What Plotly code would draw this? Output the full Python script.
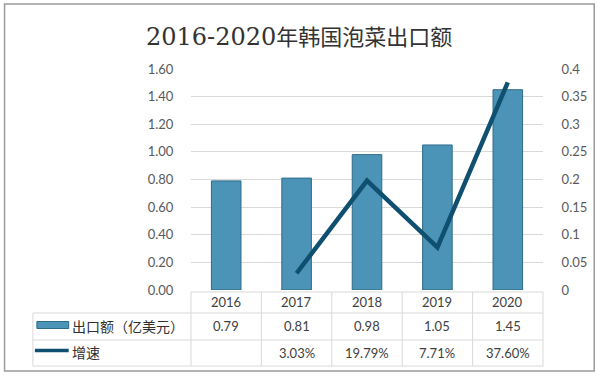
import plotly.graph_objects as go

years = ["2016", "2017", "2018", "2019", "2020"]
export_value = [0.79, 0.81, 0.98, 1.05, 1.45]
growth = [None, 0.0303, 0.1979, 0.0771, 0.3760]
growth_labels = ["", "3.03%", "19.79%", "7.71%", "37.60%"]
bar_name = "出口额（亿美元）"
line_name = "增速"
title_years = "2016-2020"
title_rest = "年韩国泡菜出口额"

W, H = 599, 376
PL, PR, PT, PB = 191, 545, 69, 290

def xp(px):
    return (px - PL) / (PR - PL)

def yp(py):
    return (PB - py) / (PB - PT)

FONT = "Lato, 'Noto Sans CJK SC', sans-serif"
TXT = "#404040"
GRID = "#d9d9d9"

fig = go.Figure()
fig.add_trace(go.Bar(
    x=years, y=export_value, name=bar_name,
    marker=dict(color="#4b93b7", line=dict(color="#2e6b8a", width=1)),
    width=0.42, yaxis="y",
))
fig.add_trace(go.Scatter(
    x=years, y=growth, name=line_name, mode="lines",
    line=dict(color="#0f4f70", width=4.5), yaxis="y2",
))

shapes = []
shapes.append(dict(type="rect", xref="paper", yref="paper",
                   x0=xp(3.5), x1=xp(596.5), y0=yp(4), y1=yp(371),
                   line=dict(color="#9a9a9a", width=1.5), fillcolor="rgba(0,0,0,0)", layer="below"))
shapes.append(dict(type="line", xref="paper", yref="paper", x0=xp(191), x1=xp(545),
                   y0=yp(292), y1=yp(292), line=dict(color=GRID, width=1)))
for py in [313, 340, 366]:
    shapes.append(dict(type="line", xref="paper", yref="paper", x0=xp(32), x1=xp(545),
                       y0=yp(py), y1=yp(py), line=dict(color=GRID, width=1)))
shapes.append(dict(type="line", xref="paper", yref="paper", x0=xp(32), x1=xp(32),
                   y0=yp(313), y1=yp(366), line=dict(color=GRID, width=1)))
for i in range(len(years) + 1):
    px = PL + i * (PR - PL) / len(years)
    shapes.append(dict(type="line", xref="paper", yref="paper", x0=xp(px), x1=xp(px),
                       y0=yp(292), y1=yp(366), line=dict(color=GRID, width=1)))
shapes.append(dict(type="rect", xref="paper", yref="paper", x0=xp(36), x1=xp(68),
                   y0=yp(328.5), y1=yp(321.5), fillcolor="#4b93b7",
                   line=dict(color="#2e6b8a", width=1)))
shapes.append(dict(type="line", xref="paper", yref="paper", x0=xp(34), x1=xp(68),
                   y0=yp(350.5), y1=yp(350.5), line=dict(color="#0f4f70", width=3.5)))

def note(x, y, text, size=13, xref="paper", xanchor="center", family=FONT, color=TXT):
    return dict(x=x, xref=xref, y=y, yref="paper", text=text, showarrow=False,
                xanchor=xanchor, yanchor="middle", font=dict(family=family, size=size, color=color))

ann = []
for i, yr in enumerate(years):
    ann.append(note(i, yp(302), yr, xref="x"))
    ann.append(note(i, yp(326), f"{export_value[i]:.2f}", xref="x"))
    ann.append(note(i, yp(353), growth_labels[i], xref="x"))
CJK = "'Noto Sans CJK SC', sans-serif"
ann.append(note(xp(69), yp(326), bar_name, size=14, xanchor="left", family=CJK, color="#303030"))
ann.append(note(xp(69), yp(352), line_name, size=14, xanchor="left", family=CJK, color="#303030"))
title_html = (f"<span style='font-family:DejaVu Serif;font-size:24px'>{title_years}</span>"
              f"<span style='font-family:Noto Sans CJK SC;font-size:22px'>{title_rest}</span>")
ann.append(note(xp(300), yp(35), title_html, size=22,
                family="'DejaVu Serif', 'Noto Sans CJK SC', serif", color="#333333"))

fig.update_layout(
    width=W, height=H,
    margin=dict(l=PL, r=W - PR, t=PT, b=H - PB, pad=0),
    paper_bgcolor="white", plot_bgcolor="white",
    showlegend=False, bargap=0.58,
    xaxis=dict(type="category", showticklabels=False, showgrid=False, zeroline=False,
               showline=False, range=[-0.5, 4.5]),
    yaxis=dict(range=[0, 1.6], dtick=0.2, tickformat=".2f", showgrid=True, gridcolor=GRID,
               gridwidth=1, zeroline=False, showline=False, ticks="outside", ticklen=14,
               tickcolor="rgba(0,0,0,0)", tickfont=dict(family=FONT, size=13, color="#595959")),
    yaxis2=dict(range=[0, 0.4], dtick=0.05, overlaying="y", side="right", showgrid=False,
                zeroline=False, showline=False, ticks="outside", ticklen=15,
                tickcolor="rgba(0,0,0,0)", tickfont=dict(family=FONT, size=13, color="#595959")),
    shapes=shapes, annotations=ann,
)

fig.write_html("out.html", config={"displayModeBar": False},
               post_script="document.body.style.margin='0';document.body.style.overflow='hidden';")
